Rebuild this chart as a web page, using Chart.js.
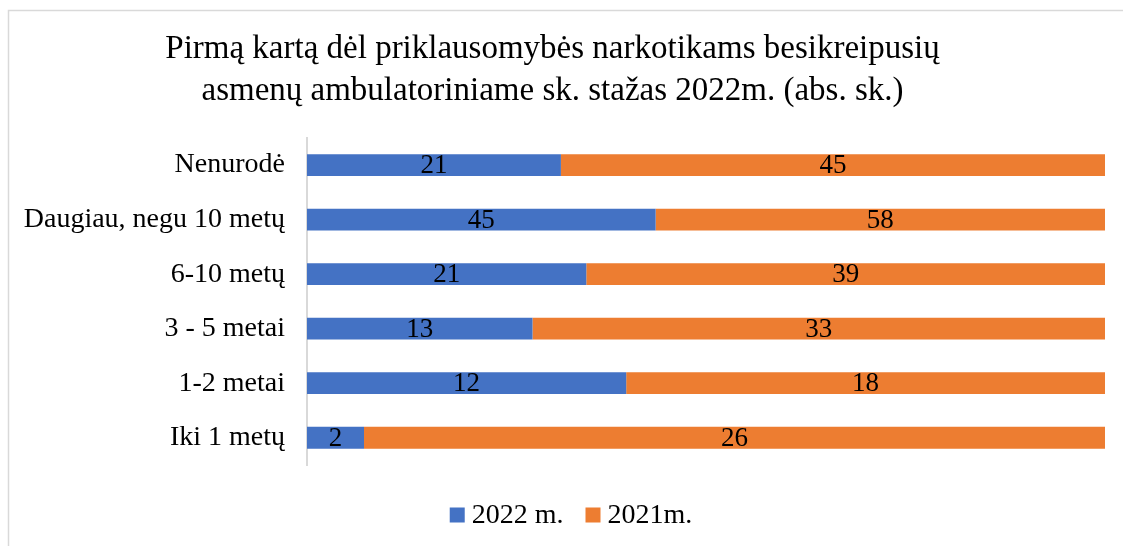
<!DOCTYPE html>
<html>
<head>
<meta charset="utf-8">
<script src="https://cdn.jsdelivr.net/npm/chart.js@4/dist/chart.umd.min.js"></script>
<style>
  html, body { margin: 0; padding: 0; background: #fff; }
  #wrap { width: 1123px; height: 546px; position: relative; }
</style>
</head>
<body>
<div id="wrap"><canvas id="chart"></canvas></div>
<script>
const categories = ['Nenurodė', 'Daugiau, negu 10 metų', '6-10 metų', '3 - 5 metai', '1-2 metai', 'Iki 1 metų'];
const values2022 = [21, 45, 21, 13, 12, 2];
const values2021 = [45, 58, 39, 33, 18, 26];
const seriesNames = ['2022 m.', '2021m.'];
const seriesColors = ['#4472C4', '#ED7D31'];

const FONT = "'Liberation Serif', 'Times New Roman', serif";

// 100% stacked: share of each row total
const totals = values2022.map((v, i) => v + values2021[i]);
const share2022 = values2022.map((v, i) => v / totals[i]);
const share2021 = values2021.map((v, i) => v / totals[i]);
const raw = [values2022, values2021];

const frame = {
  id: 'frame',
  beforeDraw(chart) {
    const c = chart.ctx;
    c.save();
    c.strokeStyle = '#d9d9d9';
    c.lineWidth = 1.5;
    c.beginPath();
    c.moveTo(8.5, 546);
    c.lineTo(8.5, 10.5);
    c.lineTo(1123, 10.5);
    c.stroke();
    c.restore();
  }
};

const barLabels = {
  id: 'barLabels',
  afterDatasetsDraw(chart) {
    const c = chart.ctx;
    c.save();
    c.font = '27px ' + FONT;
    c.fillStyle = '#000';
    c.textAlign = 'center';
    c.textBaseline = 'middle';
    chart.data.datasets.forEach((ds, di) => {
      chart.getDatasetMeta(di).data.forEach((el, i) => {
        c.fillText(raw[di][i], (el.x + el.base) / 2, el.y + 1);
      });
    });
    c.restore();
  }
};

// legend drawn by hand so it sits like the original one
const bottomLegend = {
  id: 'bottomLegend',
  afterDraw(chart) {
    const c = chart.ctx;
    c.save();
    c.font = '28px ' + FONT;
    c.textBaseline = 'middle';
    const box = 15, gap = 7, between = 22, y = 515;
    const widths = seriesNames.map(n => c.measureText(n).width);
    let total = widths.reduce((a, w) => a + box + gap + w, 0) + between * (seriesNames.length - 1);
    let x = 571 - total / 2;
    seriesNames.forEach((n, i) => {
      c.fillStyle = seriesColors[i];
      c.fillRect(x, y - box / 2, box, box);
      c.fillStyle = '#000';
      c.fillText(n, x + box + gap, y + 1);
      x += box + gap + widths[i] + between;
    });
    c.restore();
  }
};

new Chart(document.getElementById('chart'), {
  type: 'bar',
  data: {
    labels: categories,
    datasets: [
      { label: seriesNames[0], data: share2022, backgroundColor: seriesColors[0] },
      { label: seriesNames[1], data: share2021, backgroundColor: seriesColors[1] }
    ]
  },
  options: {
    indexAxis: 'y',
    responsive: true,
    maintainAspectRatio: false,
    animation: false,
    categoryPercentage: 0.4,
    barPercentage: 1,
    layout: { padding: { left: 0, right: 18, top: 0, bottom: 0 } },
    scales: {
      x: {
        stacked: true, min: 0, max: 1,
        grid: { display: false },
        border: { display: false },
        ticks: { display: false },
        afterFit(scale) { scale.height = 81; }
      },
      y: {
        stacked: true,
        grid: { display: false, drawTicks: false },
        border: { display: true, color: '#d9d9d9', width: 2 },
        ticks: { color: '#000', font: { family: FONT, size: 28 }, padding: 22 },
        afterFit(scale) { scale.width = 307; }
      }
    },
    plugins: {
      title: {
        display: true,
        text: ['Pirmą kartą dėl priklausomybės narkotikams besikreipusių', 'asmenų ambulatoriniame sk. stažas 2022m. (abs. sk.)'],
        color: '#000',
        font: { family: FONT, size: 33, weight: 'normal', lineHeight: 1.27 },
        padding: { top: 28, bottom: 26 }
      },
      legend: { display: false },
      tooltip: { enabled: false }
    }
  },
  plugins: [frame, barLabels, bottomLegend]
});
</script>
</body>
</html>
